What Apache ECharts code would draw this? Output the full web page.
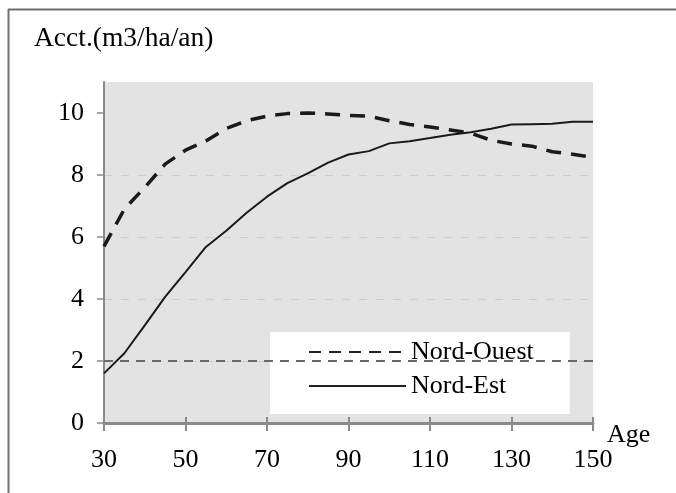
<!DOCTYPE html>
<html><head><meta charset="utf-8">
<script src="https://cdn.jsdelivr.net/npm/echarts@6/dist/echarts.min.js"></script>
<style>html,body{margin:0;padding:0;background:#fff;overflow:hidden}#c{width:676px;height:493px}</style>
</head><body><div id="c"></div>
<script>
const ages = [30,35,40,45,50,55,60,65,70,75,80,85,90,95,100,105,110,115,120,125,130,135,140,145,150];
const nordOuest = [5.7,6.9,7.6,8.35,8.8,9.1,9.5,9.75,9.9,9.98,10.0,9.97,9.92,9.9,9.75,9.63,9.55,9.45,9.35,9.12,9.0,8.93,8.75,8.67,8.57];
const nordEst = [1.6,2.25,3.15,4.07,4.87,5.68,6.2,6.78,7.3,7.74,8.05,8.4,8.66,8.77,9.02,9.09,9.19,9.3,9.38,9.49,9.63,9.64,9.65,9.72,9.72];
const yTicks = [0,2,4,6,8,10];
const seriesNames = ['Nord-Ouest','Nord-Est'];
const yTitle = 'Acct.(m3/ha/an)';
const xTitle = 'Age';

const font = 'Liberation Serif';
const chart = echarts.init(document.getElementById('c'), null, {renderer:'canvas'});
chart.setOption({
  animation:false,
  backgroundColor:'#fff',
  textStyle:{fontFamily:font},
  graphic:[
    {type:'line', shape:{x1:8,y1:9.5,x2:676,y2:9.5}, style:{stroke:'#707070', lineWidth:2}, z:100},
    {type:'line', shape:{x1:8.5,y1:9,x2:8.5,y2:493}, style:{stroke:'#707070', lineWidth:2}, z:100}
  ],
  title:[
    {text:yTitle, left:34, top:25, padding:0, textStyle:{fontFamily:font, fontSize:27.5, fontWeight:'normal', color:'#000'}},
    {text:xTitle, left:607, top:422, padding:0, textStyle:{fontFamily:font, fontSize:26, fontWeight:'normal', color:'#000'}}
  ],
  grid:{left:104, right:83, top:82, bottom:70, show:true, backgroundColor:'#e3e3e3', borderWidth:0, containLabel:false},
  legend:{orient:'vertical', left:270, top:332, backgroundColor:'#fff', padding:[7,36,15,38],
    itemWidth:97, itemHeight:14, itemGap:8, align:'left',
    textStyle:{fontFamily:font, fontSize:26, color:'#000'},
    data:[{name:seriesNames[0], itemStyle:{opacity:0}, lineStyle:{type:[12,8], width:2, color:'#222'}},
          {name:seriesNames[1], itemStyle:{opacity:0}, lineStyle:{width:2, color:'#222'}}]},
  xAxis:[{type:'value', min:30, max:150, interval:20,
    axisLine:{show:true, lineStyle:{color:'#8a8a8a', width:3}},
    axisTick:{show:true, length:8, lineStyle:{color:'#8a8a8a', width:2}},
    axisLabel:{fontFamily:font, fontSize:26, color:'#000', margin:24},
    splitLine:{show:false}},
   {type:'value', min:30, max:150, interval:20, position:'bottom',
    axisLine:{show:false}, axisTick:{show:true, inside:true, length:6, lineStyle:{color:'#8a8a8a', width:2}},
    axisLabel:{show:false}, splitLine:{show:false}}],
  yAxis:{type:'value', min:0, max:11, interval:2,
    axisLine:{show:true, lineStyle:{color:'#8a8a8a', width:2}},
    axisTick:{show:true, length:7, lineStyle:{color:'#8a8a8a', width:1.5}, customValues:yTicks},
    axisLabel:{fontFamily:font, fontSize:26, color:'#000', margin:20, customValues:yTicks},
    splitLine:{show:true, showMinLine:false, showMaxLine:false, lineStyle:{color:'#cdcdcd', width:1, type:[8,9]}}},
  series:[
    {name:seriesNames[0], type:'line', data:ages.map((a,i)=>[a,nordOuest[i]]), symbol:'none', smooth:false,
      color:'#1a1a1a', lineStyle:{color:'#1a1a1a', width:3.5, type:[15,10]}, z:3},
    {name:seriesNames[1], type:'line', data:ages.map((a,i)=>[a,nordEst[i]]), symbol:'none', smooth:false,
      color:'#1a1a1a', lineStyle:{color:'#1a1a1a', width:2}, z:3,
      markLine:{silent:true, symbol:'none', label:{show:false}, animation:false,
        lineStyle:{color:'#6a6a6a', width:2, type:[9,7]}, data:[{yAxis:2}]}}
  ]
});
</script></body></html>
